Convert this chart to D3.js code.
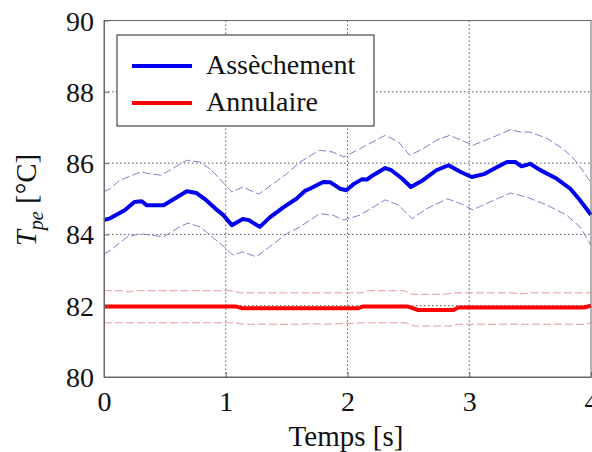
<!DOCTYPE html>
<html>
<head>
<meta charset="utf-8">
<script src="https://cdn.jsdelivr.net/npm/d3@7"></script>
<style>
  body { margin: 0; background: #fff; }
</style>
</head>
<body>
<svg id="chart" width="592" height="452"></svg>
<script>
// x ticks / y ticks
const timeTicks = [0, 1, 2, 3, 4];
const tempTicks = [80, 82, 84, 86, 88, 90];

// Assèchement: mean and +/- band, [time s, temp °C]
const dryMean = [[0.0, 84.40], [0.05, 84.45], [0.17, 84.68], [0.25, 84.91], [0.31, 84.93], [0.35, 84.82],
  [0.49, 84.82], [0.68, 85.21], [0.76, 85.16], [0.84, 84.96], [0.93, 84.68], [0.98, 84.54], [1.05, 84.26],
  [1.14, 84.43], [1.19, 84.40], [1.28, 84.21], [1.36, 84.47], [1.47, 84.75], [1.58, 85.00], [1.65, 85.22],
  [1.69, 85.28], [1.80, 85.47], [1.86, 85.46], [1.94, 85.28], [1.99, 85.24], [2.05, 85.41], [2.12, 85.55],
  [2.16, 85.54], [2.21, 85.66], [2.31, 85.86], [2.36, 85.80], [2.45, 85.56], [2.52, 85.33], [2.62, 85.52],
  [2.73, 85.80], [2.83, 85.94], [2.93, 85.75], [3.02, 85.61], [3.12, 85.69], [3.23, 85.89], [3.31, 86.03],
  [3.38, 86.03], [3.43, 85.91], [3.50, 85.98], [3.58, 85.81], [3.72, 85.56], [3.83, 85.28], [3.91, 84.96],
  [4.0, 84.55]];
const dryUpper = [[0.0, 85.20], [0.05, 85.28], [0.13, 85.52], [0.30, 85.75], [0.38, 85.70], [0.47, 85.66],
  [0.56, 85.84], [0.68, 86.08], [0.79, 86.03], [0.87, 85.84], [0.95, 85.56], [1.05, 85.19], [1.14, 85.33],
  [1.27, 85.13], [1.39, 85.42], [1.50, 85.70], [1.61, 86.03], [1.77, 86.36], [1.88, 86.31], [1.97, 86.17],
  [2.10, 86.40], [2.31, 86.78], [2.42, 86.59], [2.51, 86.22], [2.62, 86.40], [2.73, 86.64], [2.84, 86.78],
  [3.03, 86.50], [3.17, 86.69], [3.34, 86.94], [3.42, 86.87], [3.50, 86.87], [3.64, 86.69], [3.77, 86.40],
  [3.86, 86.12], [3.94, 85.75], [4.0, 85.45]];
const dryLower = [[0.0, 83.45], [0.05, 83.55], [0.19, 83.93], [0.30, 84.02], [0.38, 83.98], [0.49, 83.93],
  [0.62, 84.21], [0.69, 84.32], [0.79, 84.21], [0.87, 83.98], [0.98, 83.67], [1.06, 83.42], [1.14, 83.51],
  [1.25, 83.37], [1.36, 83.65], [1.50, 84.02], [1.61, 84.21], [1.77, 84.58], [1.88, 84.54], [1.97, 84.40],
  [2.10, 84.54], [2.31, 84.97], [2.42, 84.82], [2.53, 84.44], [2.65, 84.72], [2.82, 85.00], [2.93, 84.86],
  [3.03, 84.69], [3.17, 84.91], [3.34, 85.16], [3.47, 85.05], [3.64, 84.82], [3.80, 84.54], [3.91, 84.21],
  [4.0, 83.70]];

// Annulaire: mean and +/- band
const annMean = [[0.0, 81.98], [1.08, 81.98], [1.13, 81.93], [2.09, 81.93], [2.13, 81.98], [2.49, 81.98],
  [2.58, 81.88], [2.87, 81.88], [2.91, 81.95], [3.94, 81.95], [4.0, 82.0]];
const annUpper = [[0.0, 82.42], [0.17, 82.42], [0.21, 82.38], [0.25, 82.42], [1.05, 82.42], [1.12, 82.36],
  [2.12, 82.36], [2.16, 82.42], [2.47, 82.42], [2.53, 82.32], [2.80, 82.32], [2.88, 82.36], [3.35, 82.36],
  [3.42, 82.33], [3.52, 82.36], [4.0, 82.36]];
const annLower = [[0.0, 81.52], [1.08, 81.52], [1.14, 81.48], [1.60, 81.48], [1.70, 81.50], [1.80, 81.48],
  [2.14, 81.52], [2.48, 81.52], [2.55, 81.43], [2.85, 81.43], [2.90, 81.48], [3.95, 81.48], [4.0, 81.52]];

const legendLabels = ["Assèchement", "Annulaire"];

const serif = "'Liberation Serif', 'Times New Roman', serif";
const svg = d3.select("#chart");
const plotLeft = 104, plotRight = 591, plotTop = 20.5, plotBottom = 377;

const x = d3.scaleLinear().domain([0, 4]).range([plotLeft, plotRight]);
const y = d3.scaleLinear().domain([80, 90]).range([plotBottom, plotTop]);

// grid
const grid = svg.append("g").attr("stroke", "#555").attr("stroke-dasharray", "1.5,2.5").attr("stroke-width", 1);
grid.selectAll(".vg").data(timeTicks.slice(1, -1)).join("line")
  .attr("x1", (d) => x(d)).attr("x2", (d) => x(d)).attr("y1", plotTop).attr("y2", plotBottom);
grid.selectAll(".hg").data(tempTicks.slice(1, -1)).join("line")
  .attr("y1", (d) => y(d)).attr("y2", (d) => y(d)).attr("x1", plotLeft).attr("x2", plotRight);

const line = d3.line().x((d) => x(d[0])).y((d) => y(d[1]));

// bands
[dryUpper, dryLower].forEach((s) => {
  svg.append("path").datum(s).attr("d", line).attr("fill", "none")
    .attr("stroke", "#7a84c8").attr("stroke-width", 1).attr("stroke-dasharray", "8,3");
});
[annUpper, annLower].forEach((s) => {
  svg.append("path").datum(s).attr("d", line).attr("fill", "none")
    .attr("stroke", "#e49a9a").attr("stroke-width", 1).attr("stroke-dasharray", "8,3");
});

// means
svg.append("path").datum(dryMean).attr("d", line).attr("fill", "none")
  .attr("stroke", "#0000ee").attr("stroke-width", 4).attr("stroke-linejoin", "round");
svg.append("path").datum(annMean).attr("d", line).attr("fill", "none")
  .attr("stroke", "#ff0000").attr("stroke-width", 4).attr("stroke-linejoin", "round");

// axes (MATLAB style: inward ticks, box)
const xAxis = d3.axisBottom(x).tickValues(timeTicks).tickFormat(d3.format("d"))
  .tickSize(-5).tickSizeOuter(0).tickPadding(14);
const yAxis = d3.axisLeft(y).tickValues(tempTicks).tickFormat(d3.format("d"))
  .tickSize(-5).tickSizeOuter(0).tickPadding(10);

const gx = svg.append("g").attr("transform", `translate(0,${plotBottom})`).call(xAxis);
const gy = svg.append("g").attr("transform", `translate(${plotLeft},0)`).call(yAxis);
[gx, gy].forEach((g) => {
  g.attr("font-family", null).attr("font-size", null);
  g.select(".domain").attr("stroke", "#666");
  g.selectAll(".tick line").attr("stroke", "#666");
  g.selectAll("text").style("font-size", "28px");
});
gy.selectAll("text").attr("dy", "0.34em");

svg.append("rect").attr("x", plotLeft).attr("y", plotTop)
  .attr("width", plotRight - plotLeft).attr("height", plotBottom - plotTop)
  .attr("fill", "none").attr("stroke", "#666");

// axis labels
svg.append("text").attr("x", 346).attr("y", 446).attr("text-anchor", "middle")
  .style("font-size", "29px").text("Temps [s]");

const yl = svg.append("text").attr("transform", "translate(36,200) rotate(-90)")
  .attr("text-anchor", "middle").style("font-size", "29px");
yl.append("tspan").style("font-style", "italic").text("T");
yl.append("tspan").style("font-style", "italic").style("font-size", "20px").attr("dy", "7").text("pe");
yl.append("tspan").attr("dy", "-7").text(" [°C]");

// legend
const lg = svg.append("g");
lg.append("rect").attr("x", 117).attr("y", 35).attr("width", 257).attr("height", 91)
  .attr("fill", "#fff").attr("stroke", "#222");
const legColors = ["#0000ee", "#ff0000"];
legendLabels.forEach((lab, i) => {
  const ly = 66 + i * 37;
  lg.append("line").attr("x1", 132).attr("x2", 192).attr("y1", ly).attr("y2", ly)
    .attr("stroke", legColors[i]).attr("stroke-width", 4);
  lg.append("text").attr("x", 206).attr("y", ly + 8).style("font-size", "28px").text(lab);
});

svg.selectAll("text").style("font-family", serif).attr("fill", "#111");
</script>
</body>
</html>
